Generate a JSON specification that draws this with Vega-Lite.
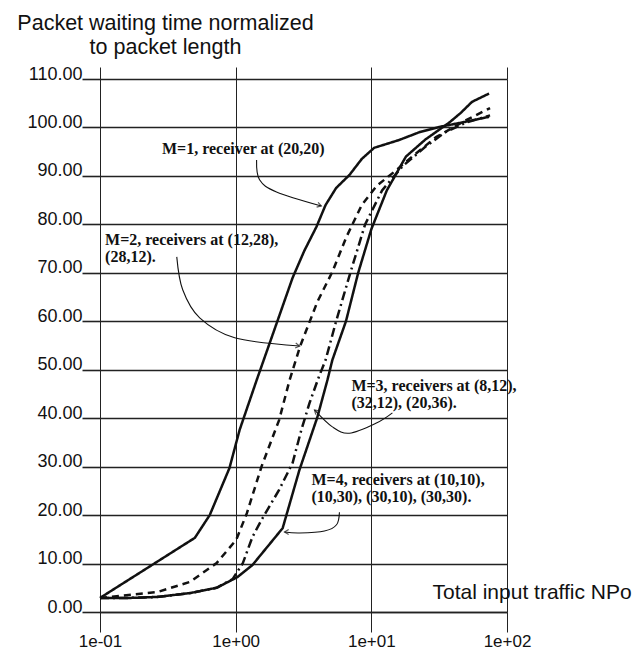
{
  "$schema": "https://vega.github.io/schema/vega-lite/v6.json",
  "width": 407,
  "height": 533,
  "autosize": "none",
  "padding": {"left": 100, "top": 79, "right": 135, "bottom": 41},
  "background": "white",
  "config": {
    "view": {"stroke": null},
    "axis": {
      "labelFont": "Liberation Sans",
      "titleFont": "Liberation Sans",
      "labelColor": "#111",
      "titleColor": "#111",
      "tickColor": "#222",
      "gridColor": "#222",
      "domainColor": "#222",
      "gridOpacity": 1,
      "labelFlush": false,
      "titleFontWeight": "normal"
    }
  },
  "datasets": {
    "curves": [
      {"series": "M1", "x": 0.1, "y": 2.9},
      {"series": "M1", "x": 0.5, "y": 15.3},
      {"series": "M1", "x": 0.644, "y": 20},
      {"series": "M1", "x": 0.9, "y": 29.7},
      {"series": "M1", "x": 1.07, "y": 37.6},
      {"series": "M1", "x": 1.43, "y": 47.9},
      {"series": "M1", "x": 2.0, "y": 59.5},
      {"series": "M1", "x": 2.63, "y": 69},
      {"series": "M1", "x": 3.2, "y": 74.5},
      {"series": "M1", "x": 3.94, "y": 79.5},
      {"series": "M1", "x": 4.6, "y": 84},
      {"series": "M1", "x": 5.5, "y": 87.5},
      {"series": "M1", "x": 6.9, "y": 90.2},
      {"series": "M1", "x": 8.5, "y": 93.5},
      {"series": "M1", "x": 10.5, "y": 95.8},
      {"series": "M1", "x": 16, "y": 97.4},
      {"series": "M1", "x": 22.5, "y": 99},
      {"series": "M1", "x": 31.6, "y": 100.1},
      {"series": "M1", "x": 50, "y": 101.2},
      {"series": "M1", "x": 73.8, "y": 102.2},
      {"series": "M2", "x": 0.1, "y": 2.9},
      {"series": "M2", "x": 0.263, "y": 4.1},
      {"series": "M2", "x": 0.46, "y": 6.2},
      {"series": "M2", "x": 0.724, "y": 10.1},
      {"series": "M2", "x": 1.01, "y": 14.9},
      {"series": "M2", "x": 1.21, "y": 20.4},
      {"series": "M2", "x": 1.55, "y": 30},
      {"series": "M2", "x": 2.09, "y": 39.6},
      {"series": "M2", "x": 2.5, "y": 47.9},
      {"series": "M2", "x": 3.0, "y": 55},
      {"series": "M2", "x": 4.0, "y": 64},
      {"series": "M2", "x": 5.16, "y": 70.2},
      {"series": "M2", "x": 6.55, "y": 77.4},
      {"series": "M2", "x": 8.5, "y": 84},
      {"series": "M2", "x": 11, "y": 88},
      {"series": "M2", "x": 15, "y": 91},
      {"series": "M2", "x": 20, "y": 94},
      {"series": "M2", "x": 30, "y": 98},
      {"series": "M2", "x": 50, "y": 101.5},
      {"series": "M2", "x": 75, "y": 104},
      {"series": "M3", "x": 0.1, "y": 2.9},
      {"series": "M3", "x": 0.166, "y": 2.9},
      {"series": "M3", "x": 0.263, "y": 3.1},
      {"series": "M3", "x": 0.46, "y": 3.9},
      {"series": "M3", "x": 0.724, "y": 5.0},
      {"series": "M3", "x": 0.95, "y": 6.8},
      {"series": "M3", "x": 1.13, "y": 10.1},
      {"series": "M3", "x": 1.33, "y": 15.5},
      {"series": "M3", "x": 1.55, "y": 19},
      {"series": "M3", "x": 2.09, "y": 25.2},
      {"series": "M3", "x": 2.63, "y": 30.8},
      {"series": "M3", "x": 3.05, "y": 37.6},
      {"series": "M3", "x": 3.5, "y": 43.1},
      {"series": "M3", "x": 4.1, "y": 48.5},
      {"series": "M3", "x": 4.6, "y": 52},
      {"series": "M3", "x": 5.5, "y": 60},
      {"series": "M3", "x": 7, "y": 70},
      {"series": "M3", "x": 9, "y": 80},
      {"series": "M3", "x": 12, "y": 87},
      {"series": "M3", "x": 17, "y": 92},
      {"series": "M3", "x": 25, "y": 96},
      {"series": "M3", "x": 35, "y": 99},
      {"series": "M3", "x": 50, "y": 101},
      {"series": "M3", "x": 75, "y": 102.5},
      {"series": "M4", "x": 0.1, "y": 2.9},
      {"series": "M4", "x": 0.166, "y": 2.9},
      {"series": "M4", "x": 0.263, "y": 3.1},
      {"series": "M4", "x": 0.46, "y": 3.9},
      {"series": "M4", "x": 0.724, "y": 5.0},
      {"series": "M4", "x": 1.03, "y": 7.2},
      {"series": "M4", "x": 1.33, "y": 9.7},
      {"series": "M4", "x": 2.22, "y": 17.3},
      {"series": "M4", "x": 2.95, "y": 29.3},
      {"series": "M4", "x": 4.0, "y": 40.2},
      {"series": "M4", "x": 4.75, "y": 47.9},
      {"series": "M4", "x": 5.16, "y": 52},
      {"series": "M4", "x": 6.5, "y": 60},
      {"series": "M4", "x": 8, "y": 70},
      {"series": "M4", "x": 10, "y": 79},
      {"series": "M4", "x": 13, "y": 87},
      {"series": "M4", "x": 18, "y": 94},
      {"series": "M4", "x": 25, "y": 97.5},
      {"series": "M4", "x": 37.5, "y": 101},
      {"series": "M4", "x": 45.6, "y": 103},
      {"series": "M4", "x": 55.3, "y": 105.3},
      {"series": "M4", "x": 73.8, "y": 107}
    ],
    "arrows": [
      {"id": "A1", "ord": 1, "x": 1.426, "y": 93.3},
      {"id": "A1", "ord": 2, "x": 1.5, "y": 89.2},
      {"id": "A1", "ord": 3, "x": 2.0, "y": 86.7},
      {"id": "A1", "ord": 4, "x": 4.28, "y": 83.8},
      {"id": "A2", "ord": 1, "x": 0.368, "y": 73.3},
      {"id": "A2", "ord": 2, "x": 0.407, "y": 66.5},
      {"id": "A2", "ord": 3, "x": 0.543, "y": 60.7},
      {"id": "A2", "ord": 4, "x": 0.984, "y": 56.6},
      {"id": "A2", "ord": 5, "x": 2.96, "y": 54.9},
      {"id": "A3", "ord": 1, "x": 14.3, "y": 41.1},
      {"id": "A3", "ord": 2, "x": 10.9, "y": 39.0},
      {"id": "A3", "ord": 3, "x": 6.89, "y": 36.9},
      {"id": "A3", "ord": 4, "x": 5.16, "y": 38.2},
      {"id": "A3", "ord": 5, "x": 3.81, "y": 41.7},
      {"id": "A4", "ord": 1, "x": 5.82, "y": 20.6},
      {"id": "A4", "ord": 2, "x": 5.54, "y": 18.0},
      {"id": "A4", "ord": 3, "x": 4.51, "y": 16.7},
      {"id": "A4", "ord": 4, "x": 2.96, "y": 16.3},
      {"id": "A4", "ord": 5, "x": 2.29, "y": 16.5}
    ],
    "tips": [
      {"id": "A1", "x": 4.28, "y": 83.8},
      {"id": "A2", "x": 2.96, "y": 54.9},
      {"id": "A3", "x": 3.81, "y": 41.7},
      {"id": "A4", "x": 2.29, "y": 16.5}
    ],
    "labels": [
      {"x": 0.286, "y": 94.5, "text": "M=1, receiver at (20,20)"},
      {"x": 0.109, "y": 75.7, "text": "M=2, receivers at (12,28),\n(28,12)."},
      {"x": 7.13, "y": 45.6, "text": "M=3, receivers at (8,12),\n(32,12), (20,36)."},
      {"x": 3.62, "y": 26.2, "text": "M=4, receivers at (10,10),\n(10,30), (30,10), (30,30)."}
    ]
  },
  "resolve": {"axis": {"x": "independent"}},
  "layer": [
    {
      "data": {"name": "curves"},
      "mark": {"type": "line", "color": "#111", "strokeWidth": 2.5},
      "encoding": {
        "x": {
          "field": "x", "type": "quantitative",
          "scale": {"type": "log", "domain": [0.1, 100]},
          "axis": {
            "orient": "bottom",
            "values": [0.1, 1, 10, 100],
            "labelExpr": "datum.value < 0.5 ? '1e-01' : datum.value < 5 ? '1e+00' : datum.value < 50 ? '1e+01' : '1e+02'",
            "tickSize": 20, "tickWidth": 1, "labelPadding": 1, "labelFontSize": 17,
            "labelBaseline": "top", "labelAlign": "center",
            "grid": true, "gridWidth": 1, "domainWidth": 1.6,
            "title": "Total input traffic NPo",
            "titleFontSize": 21, "titleX": 332, "titleY": -14,
            "titleAlign": "left", "titleBaseline": "alphabetic", "titleAnchor": "start"
          }
        },
        "y": {
          "field": "y", "type": "quantitative",
          "scale": {"domain": [0, 110]},
          "axis": {
            "values": [0, 10, 20, 30, 40, 50, 60, 70, 80, 90, 100, 110],
            "format": ".2f",
            "tickSize": 18, "tickWidth": 1.6, "labelPadding": 0, "labelFontSize": 18,
            "labelAlign": "right", "labelBaseline": "alphabetic",
            "grid": true, "gridWidth": 1.6, "domainWidth": 1,
            "title": ["Packet waiting time normalized", "to packet length"],
            "titleFontSize": 21.5, "titleAngle": 0, "titleX": 65, "titleY": -50,
            "titleAlign": "center", "titleBaseline": "alphabetic", "titleLineHeight": 24
          }
        },
        "strokeDash": {
          "field": "series", "type": "nominal",
          "scale": {"domain": ["M1", "M2", "M3", "M4"], "range": [[1, 0], [7, 5], [9, 4, 2, 4], [1, 0]]},
          "legend": null
        }
      }
    },
    {
      "data": {"name": "arrows"},
      "mark": {"type": "line", "color": "#111", "strokeWidth": 1.1, "interpolate": "cardinal"},
      "encoding": {
        "x": {"field": "x", "type": "quantitative", "axis": null},
        "y": {"field": "y", "type": "quantitative"},
        "detail": {"field": "id"},
        "order": {"field": "ord", "type": "quantitative"}
      }
    },
    {
      "data": {"name": "tips"},
      "transform": [{"filter": "datum.id == 'A1'"}],
      "mark": {"type": "point", "shape": "M-1,-0.6L0,0L-1,0.6", "filled": false, "stroke": "#111", "strokeWidth": 1.2, "size": 70, "angle": 17},
      "encoding": {"x": {"field": "x", "type": "quantitative", "axis": null}, "y": {"field": "y", "type": "quantitative"}}
    },
    {
      "data": {"name": "tips"},
      "transform": [{"filter": "datum.id == 'A2'"}],
      "mark": {"type": "point", "shape": "M-1,-0.6L0,0L-1,0.6", "filled": false, "stroke": "#111", "strokeWidth": 1.2, "size": 70, "angle": 7},
      "encoding": {"x": {"field": "x", "type": "quantitative", "axis": null}, "y": {"field": "y", "type": "quantitative"}}
    },
    {
      "data": {"name": "tips"},
      "transform": [{"filter": "datum.id == 'A3'"}],
      "mark": {"type": "point", "shape": "M-1,-0.6L0,0L-1,0.6", "filled": false, "stroke": "#111", "strokeWidth": 1.2, "size": 70, "angle": 223},
      "encoding": {"x": {"field": "x", "type": "quantitative", "axis": null}, "y": {"field": "y", "type": "quantitative"}}
    },
    {
      "data": {"name": "tips"},
      "transform": [{"filter": "datum.id == 'A4'"}],
      "mark": {"type": "point", "shape": "M-1,-0.6L0,0L-1,0.6", "filled": false, "stroke": "#111", "strokeWidth": 1.2, "size": 70, "angle": 180},
      "encoding": {"x": {"field": "x", "type": "quantitative", "axis": null}, "y": {"field": "y", "type": "quantitative"}}
    },
    {
      "data": {"name": "labels"},
      "mark": {"type": "text", "font": "Liberation Serif", "fontWeight": "bold", "fontSize": 16, "lineBreak": "\n", "lineHeight": 17, "align": "left", "baseline": "alphabetic", "color": "#111"},
      "encoding": {
        "x": {"field": "x", "type": "quantitative",
          "axis": {"orient": "top", "values": [0.1, 1, 10, 100], "labels": false, "tickSize": 12, "tickWidth": 1, "domain": false, "grid": false, "title": null}},
        "y": {"field": "y", "type": "quantitative"},
        "text": {"field": "text"}
      }
    }
  ]
}
